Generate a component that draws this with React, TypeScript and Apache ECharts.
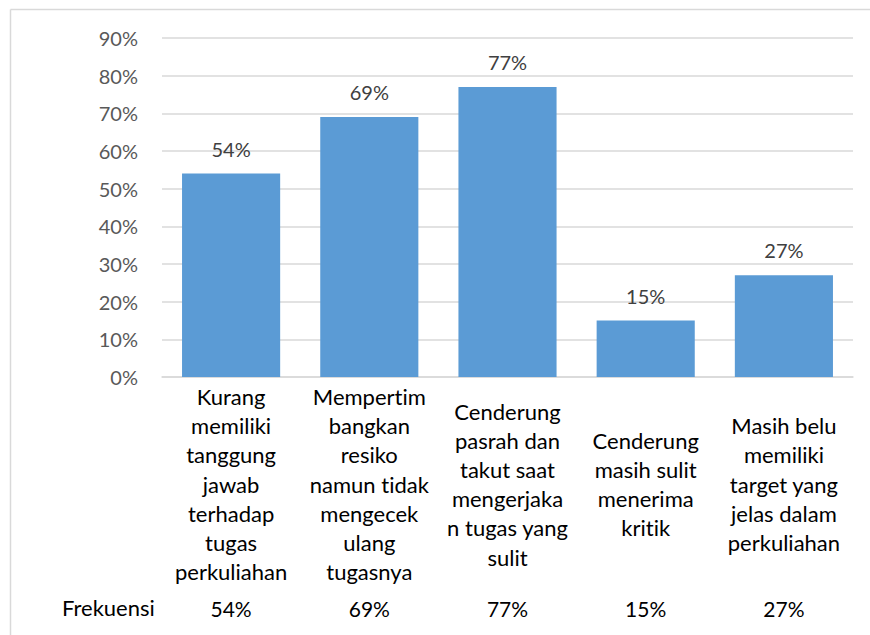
import React, { useEffect, useRef } from "react";
import * as echarts from "echarts";

const categories = [
  "Kurang\nmemiliki\ntanggung\njawab\nterhadap\ntugas\nperkuliahan",
  "Mempertim\nbangkan\nresiko\nnamun tidak\nmengecek\nulang\ntugasnya",
  "Cenderung\npasrah dan\ntakut saat\nmengerjaka\nn tugas yang\nsulit",
  "Cenderung\nmasih sulit\nmenerima\nkritik",
  "Masih belu\nmemiliki\ntarget yang\njelas dalam\nperkuliahan",
];
const seriesName = "Frekuensi";
const frekuensi = [54, 69, 77, 15, 27];
const yTicks = { min: 0, max: 90, interval: 10 };

const FONT = "Lato";

export default function App() {
  const ref = useRef<HTMLDivElement>(null);
  useEffect(() => {
    if (!ref.current) return;
    const chart = echarts.init(ref.current, null, { renderer: "svg" });
    chart.setOption({
      animation: false,
      backgroundColor: "#ffffff",
      textStyle: { fontFamily: FONT },
      grid: { left: 162, right: 17, top: 38, bottom: 258, containLabel: false },
      xAxis: [
        {
          type: "category",
          data: categories,
          position: "bottom",
          axisLine: { show: true, lineStyle: { color: "#D9D9D9", width: 1.5 } },
          axisTick: { show: false },
          axisLabel: {
            interval: 0,
            color: "#000000",
            fontFamily: FONT,
            fontSize: 22,
            lineHeight: 29.2,
            verticalAlign: "middle",
            margin: 107,
          },
        },
        {
          type: "category",
          data: frekuensi.map((v) => v + "%"),
          position: "bottom",
          axisLine: { show: false },
          axisTick: { show: false },
          axisLabel: {
            interval: 0,
            color: "#000000",
            fontFamily: FONT,
            fontSize: 21,
            verticalAlign: "middle",
            margin: 231,
          },
        },
      ],
      yAxis: {
        type: "value",
        min: yTicks.min,
        max: yTicks.max,
        interval: yTicks.interval,
        axisLine: { show: false },
        axisTick: { show: false },
        splitLine: { lineStyle: { color: "#D9D9D9", width: 1.5 } },
        axisLabel: {
          formatter: "{value}%",
          color: "#595959",
          fontFamily: FONT,
          fontSize: 20,
          margin: 24,
        },
      },
      graphic: [
        {
          type: "line",
          shape: { x1: 10.5, y1: 9.5, x2: 870, y2: 9.5 },
          style: { stroke: "#D9D9D9", lineWidth: 1.5 },
        },
        {
          type: "line",
          shape: { x1: 10.5, y1: 9.5, x2: 10.5, y2: 635 },
          style: { stroke: "#D9D9D9", lineWidth: 1.5 },
        },
        {
          type: "text",
          left: 62,
          top: 596,
          style: {
            text: seriesName,
            font: `22px ${FONT}`,
            fill: "#000000",
          },
        },
      ],
      series: [
        {
          name: seriesName,
          type: "bar",
          data: frekuensi,
          barWidth: "71%",
          itemStyle: { color: "#5B9BD5" },
          label: {
            show: true,
            position: "top",
            distance: 15,
            formatter: "{c}%",
            color: "#404040",
            fontFamily: FONT,
            fontSize: 20,
          },
        },
      ],
    });
    return () => chart.dispose();
  }, []);
  return (
    <>
      <style>{"text{font-variant-ligatures:none;font-feature-settings:'liga' 0;}"}</style>
      <div
        ref={ref}
        style={{ position: "absolute", left: 0, top: 0, width: 870, height: 635 }}
      />
    </>
  );
}
